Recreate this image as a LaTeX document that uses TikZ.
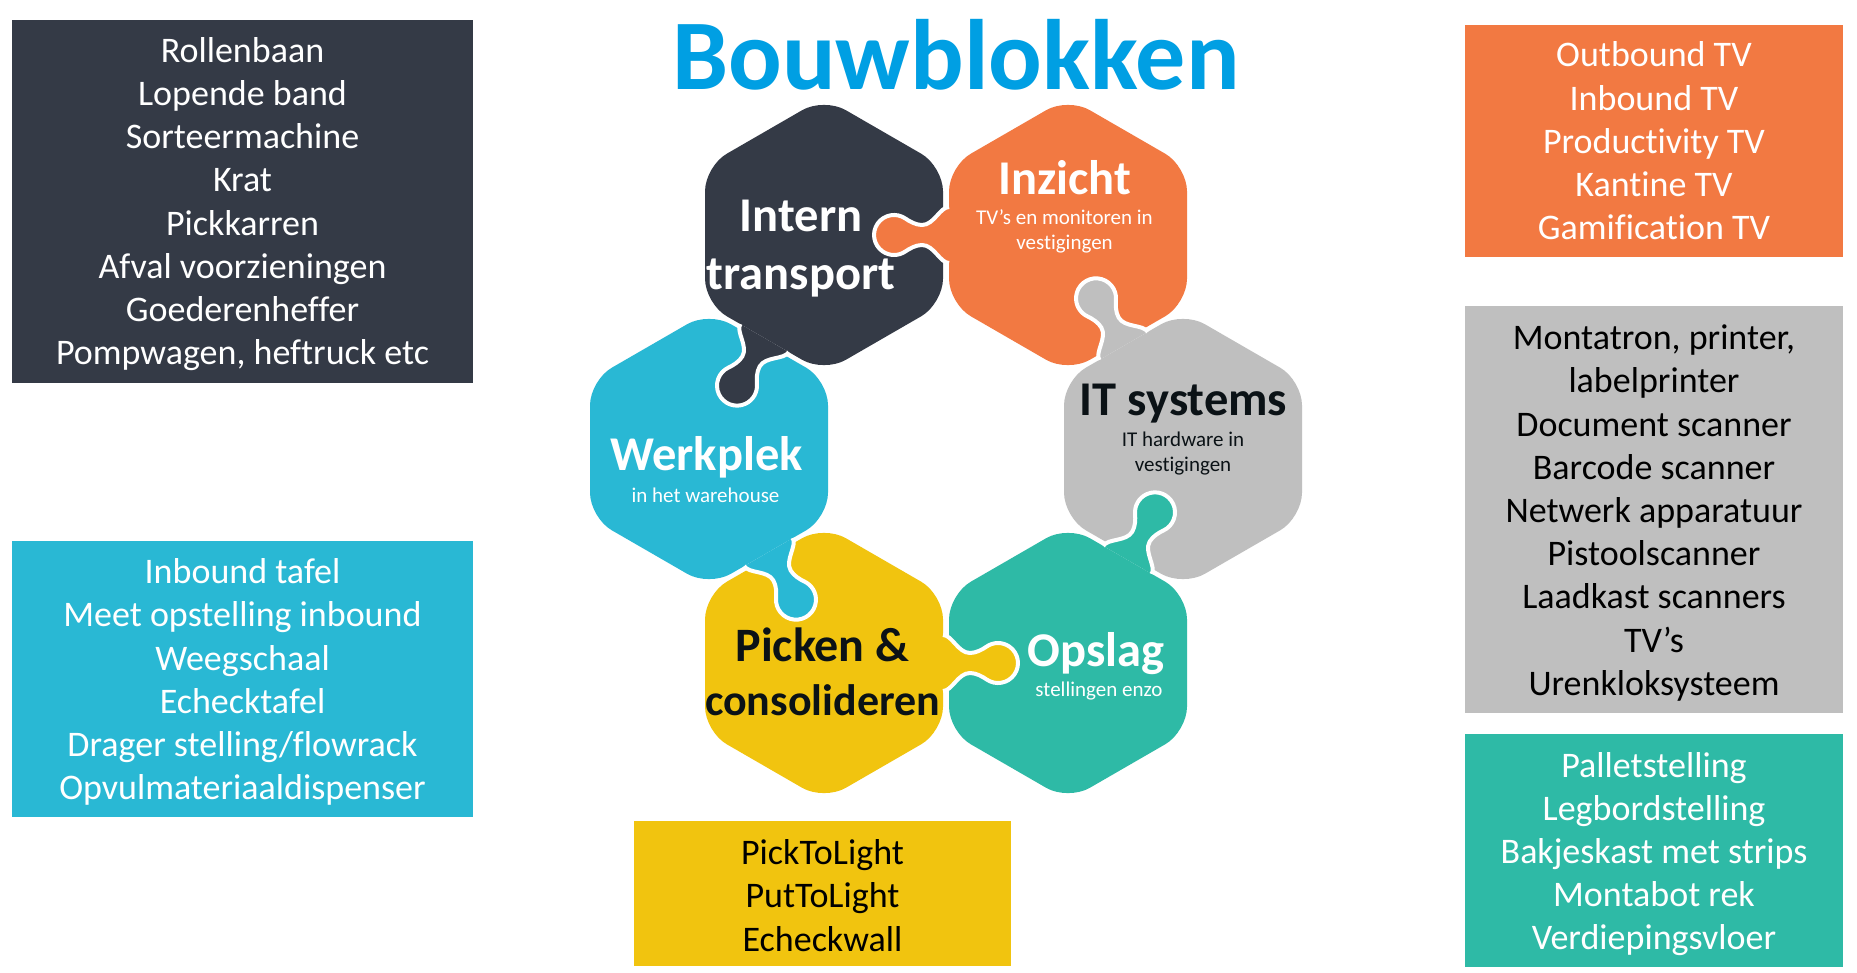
\documentclass[tikz,border=0pt]{standalone}
\usepackage{fontspec}
\setmainfont{Carlito}[Ligatures={NoCommon,NoRare,NoContextual}]
\usetikzlibrary{calc}
\definecolor{cdark}{HTML}{343A46}
\definecolor{corange}{HTML}{F27942}
\definecolor{cblue}{HTML}{29B8D4}
\definecolor{cgray}{HTML}{BFBFBF}
\definecolor{cyellow}{HTML}{F1C40F}
\definecolor{cteal}{HTML}{2EBAA6}
\definecolor{ctitle}{HTML}{009FE3}
\definecolor{cink}{HTML}{0B1216}

\newcommand\hexpiece[2]{%
  \begin{scope}[shift={(#1)}]
    \fill[#2, rounded corners=25pt] (90:137.4) -- (30:137.4) -- (-30:137.4) -- (-90:137.4) -- (-150:137.4) -- (150:137.4) -- cycle;
  \end{scope}}
\newcommand\puzzletab[3]{%
  \begin{scope}[shift={(#1)}, rotate=#2]
    \filldraw[fill=#3, tabline]
      (119,28) .. controls (128,28) and (134,10) .. (146,10)
      .. controls (152,10) and (158.4,13.5) .. (162.5,16.4)
      arc[start angle=125, end angle=-125, radius=20]
      .. controls (158.4,-13.5) and (152,-10) .. (146,-10)
      .. controls (134,-10) and (128,-28) .. (119,-28);
  \end{scope}}

\tikzset{
  tabline/.style={draw=white, line width=4pt, line join=round},
  hexbig/.style={font=\fontsize{48.5}{52}\selectfont\bfseries, anchor=base, inner sep=0pt},
  hexsmall/.style={font=\fontsize{21}{24}\selectfont, anchor=base, inner sep=0pt},
  listbox/.style={inner sep=0pt},
  listtext/.style={font=\fontsize{36}{43.2}\selectfont, align=center, inner sep=0pt},
}

\begin{document}
\begin{tikzpicture}[x=1pt, y=-1pt]
\useasboundingbox (0,0) rectangle (1857,973);
\fill[white] (0,0) rectangle (1857,973);

% centres of the pieces
\coordinate (cD) at (824,235);
\coordinate (cO) at (1068,235);
\coordinate (cB) at (709,449);
\coordinate (cG) at (1183,449);
\coordinate (cY) at (824,663);
\coordinate (cT) at (1068,663);

% title
\node[font=\fontsize{100}{102}\selectfont\bfseries, text=ctitle, anchor=base, inner sep=0pt] (title) at (956,90) {Bouwblokken};

% hexagon pieces
\hexpiece{cD}{cdark}
\hexpiece{cO}{corange}
\hexpiece{cB}{cblue}
\hexpiece{cG}{cgray}
\hexpiece{cY}{cyellow}
\hexpiece{cT}{cteal}

% puzzle tabs
\puzzletab{cO}{180}{corange}
\puzzletab{cG}{120}{cgray}
\puzzletab{cT}{60}{cteal}
\puzzletab{cY}{0}{cyellow}
\puzzletab{cB}{-60}{cblue}
\puzzletab{cD}{-120}{cdark}

% piece labels
\node[hexbig, text=white] (intern1) at (801,232) {Intern};
\node[hexbig, text=white] (intern2) at (801,290) {transport};

\node[hexbig, text=white] (inzicht) at (1064.5,195) {Inzicht};
\node[hexsmall, text=white] (inzicht1) at (1064.5,225) {TV’s en monitoren in};
\node[hexsmall, text=white] (inzicht2) at (1064.5,250) {vestigingen};

\node[hexbig, text=white] (werkplek) at (706.5,470) {Werkplek};
\node[hexsmall, text=white] (werkplek1) at (705.5,502) {in het warehouse};

\node[hexbig, text=cink] (it) at (1183.5,415) {IT systems};
\node[hexsmall, text=cink] (it1) at (1183,446) {IT hardware in};
\node[hexsmall, text=cink] (it2) at (1183,471) {vestigingen};

\node[hexbig, text=cink, font=\fontsize{48}{52}\selectfont\bfseries] (picken1) at (822.5,661) {Picken \&};
\node[hexbig, text=cink, font=\fontsize{44}{48}\selectfont\bfseries] (picken2) at (822.5,715) {consolideren};

\node[hexbig, text=white] (opslag) at (1096,666) {Opslag};
\node[hexsmall, text=white] (opslag1) at (1099,696) {stellingen enzo};

% list boxes
\node[listbox, fill=cdark, minimum width=461pt, minimum height=363pt] (boxtransport) at (242.5,201.5) {};
\node[listtext, text=white] (listtransport) at ($(boxtransport.center)+(0,2.5)$)
  {Rollenbaan\\Lopende band\\Sorteermachine\\Krat\\Pickkarren\\Afval voorzieningen\\Goederenheffer\\Pompwagen, heftruck etc};
\node[listbox, fill=cblue, minimum width=461pt, minimum height=276pt] (boxwerkplek) at (242.5,679) {};
\node[listtext, text=white] (listwerkplek) at ($(boxwerkplek.center)+(0,3)$)
  {Inbound tafel\\Meet opstelling inbound\\Weegschaal\\Echecktafel\\Drager stelling/flowrack\\Opvulmateriaaldispenser};
\node[listbox, fill=corange, minimum width=378pt, minimum height=232pt] (boxinzicht) at (1654,141) {};
\node[listtext, text=white] (listinzicht) at (boxinzicht.center)
  {Outbound TV\\Inbound TV\\Productivity TV\\Kantine TV\\Gamification TV};
\node[listbox, fill=cgray, minimum width=378pt, minimum height=407pt] (boxit) at (1654,509.5) {};
\node[listtext, text=black] (listit) at ($(boxit.center)+(0,3.5)$)
  {Montatron, printer,\\labelprinter\\Document scanner\\Barcode scanner\\Netwerk apparatuur\\Pistoolscanner\\Laadkast scanners\\TV’s\\Urenkloksysteem};
\node[listbox, fill=cteal, minimum width=378pt, minimum height=233pt] (boxopslag) at (1654,850.5) {};
\node[listtext, text=white] (listopslag) at ($(boxopslag.center)+(0,3.5)$)
  {Palletstelling\\Legbordstelling\\Bakjeskast met strips\\Montabot rek\\Verdiepingsvloer};
\node[listbox, fill=cyellow, minimum width=377pt, minimum height=145pt] (boxpicken) at (822.5,893.5) {};
\node[listtext, text=black] (listpicken) at ($(boxpicken.center)+(0,2)$)
  {PickToLight\\PutToLight\\Echeckwall};
\end{tikzpicture}
\end{document}
